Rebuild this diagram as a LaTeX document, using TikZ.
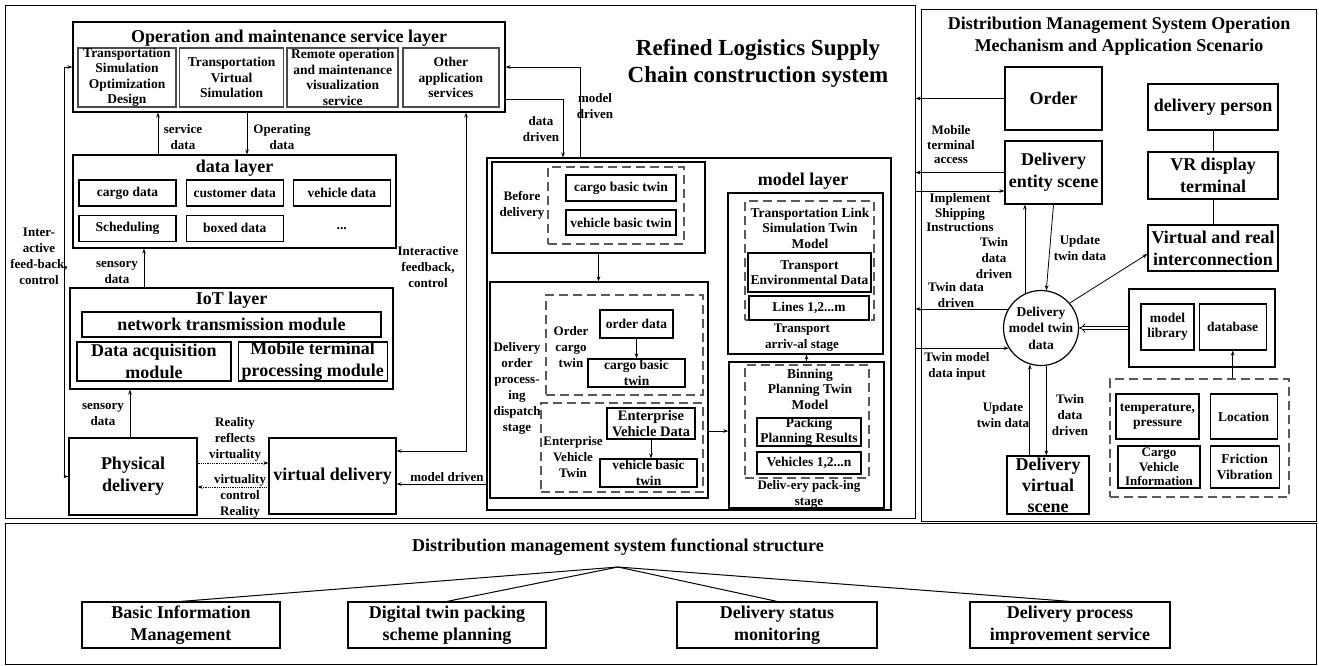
\documentclass[tikz,border=0pt]{standalone}
\usepackage{fontspec}
\setmainfont{Liberation Serif}
\usetikzlibrary{arrows.meta,positioning}

\newcommand{\fntlab}{\fontsize{13}{16}\selectfont\bfseries}
\newcommand{\fnttight}{\fontsize{13}{14.5}\selectfont\bfseries}
\newcommand{\fntbox}{\fontsize{13.5}{15.5}\selectfont\bfseries}
\newcommand{\fntmid}{\fontsize{14.5}{15.5}\selectfont\bfseries}
\newcommand{\fntbig}{\fontsize{18}{22}\selectfont\bfseries}
\newcommand{\fnthead}{\fontsize{23}{27}\selectfont\bfseries}

\tikzset{
  wh/.style 2 args={minimum width=#1pt,minimum height=#2pt},
  box/.style={draw,line width=1.2pt,inner sep=0pt,align=center},
  sbox/.style={box,draw=black!70,line width=1.6pt},
  dbox/.style={draw=black!65,line width=1.2pt,dash pattern=on 9pt off 5pt,inner sep=0pt},
  frame/.style={draw,line width=1pt,inner sep=0pt},
  lab/.style={align=center,inner sep=0pt,font=\fntlab},
  labt/.style={lab,font=\fnttight}
}

\begin{document}
\begin{tikzpicture}[x=1pt,y=-1pt,>={Stealth[length=5pt,width=3.6pt]},line width=0.8pt]
  \useasboundingbox (0,0) rectangle (1319,665);
  \node[frame,wh={910}{513}] (lframe) at (460,261.5) {};
  \node[frame,wh={395}{512}] (rframe) at (1118.5,265) {};
  \node[frame,wh={1311}{141}] (bframe) at (660.5,593.5) {};

  % operation and maintenance service layer
  \node[box,wh={432}{90}] (opslayer) at (289,67) {};
  \node[font=\fntbig] (opstitle) at (289,38) {Operation and maintenance service layer};
  \node[sbox,wh={98}{59},font=\fntbox] (tsod) at (127,77.5) {Transportation\\Simulation\\Optimization\\Design};
  \node[sbox,wh={104}{59},font=\fntbox] (tvs) [right=2pt of tsod] {Transportation\\Virtual\\Simulation};
  \node[sbox,wh={111}{59},font=\fntbox] (romv) [right=2pt of tvs] {Remote operation\\and maintenance\\visualization\\service};
  \node[sbox,wh={96}{59},font=\fntbox] (oas) [right=3pt of romv] {Other\\application\\services};

  % data layer
  \node[box,wh={323}{93}] (datalayer) at (234.5,201.5) {};
  \node[font=\fntbig] (datatitle) at (234.5,168) {data layer};
  \node[box,wh={97}{26},font=\fntbox] (cargo) at (127.5,193) {cargo data};
  \node[box,wh={97}{26},font=\fntbox] (customer) [right=9pt of cargo] {customer data};
  \node[box,wh={97}{26},font=\fntbox] (vehicle) [right=9pt of customer] {vehicle data};
  \node[box,wh={97}{26},font=\fntbox] (sched) [below=8pt of cargo] {Scheduling};
  \node[box,wh={97}{26},font=\fntbox] (boxed) [right=9pt of sched] {boxed data};
  \node[wh={97}{26},font=\fntbox] (etc) [right=9pt of boxed] {...};

  % IoT layer
  \node[box,wh={323}{101}] (iot) at (231.5,338.5) {};
  \node[font=\fntbig] (iottitle) at (231.5,300) {IoT layer};
  \node[box,wh={299}{25},font=\fntbig] (net) at (231.5,324.5) {network transmission module};
  \node[box,wh={154}{39},font=\fntbig] (daq) at (154,361.5) {Data acquisition\\module};
  \node[box,wh={149}{39},font=\fntbig] (mobile) [right=6pt of daq] {Mobile terminal\\processing module};

  \node[box,wh={128}{77},font=\fntbig] (phys) at (133,476.5) {Physical\\delivery};
  \node[box,wh={127}{76},font=\fntbig] (vdel) at (332.5,476) {virtual delivery};

  \coordinate (xsd) at (158,0);
  \coordinate (xod) at (247,0);
  \coordinate (xsn) at (144,0);
  \coordinate (xsn2) at (130,0);
  \coordinate (fbL) at (64,0);
  \coordinate (fbR) at (466,451);
  \coordinate (rr) at (0,463);
  \coordinate (vc) at (0,487);
  \coordinate (md2) at (0,484);
  \draw[->] (xsd |- datalayer.north) -- (xsd |- opslayer.south);
  \draw[->] (xod |- opslayer.south) -- (xod |- datalayer.north);
  \draw[->] (xsn |- iot.north) -- (xsn |- datalayer.south);
  \draw[->] (xsn2 |- phys.north) -- (xsn2 |- iot.south);
  \draw[<->] (opslayer.west) -| (fbL |- phys.west) -- (phys.west);
  \draw[<->] (vdel.east |- fbR) -- (fbR) -- (fbR |- opslayer.south);
  \draw[->,densely dotted] (phys.east |- rr) -- (vdel.west |- rr);
  \draw[->,densely dotted] (vdel.west |- vc) -- (phys.east |- vc);

  \node[lab] (sdlab) at (183,137) {service\\data};
  \node[lab] (odlab) at (282,137) {Operating\\data};
  \node[lab] (fbLlab) at (39,256) {Inter-\\active\\feed-back,\\control};
  \node[lab] (fbRlab) at (428,267) {Interactive\\feedback,\\control};
  \node[lab] (snlab) at (117,272.5) {sensory\\data};
  \node[lab] (sn2lab) at (103,414.5) {sensory\\data};
  \node[lab] (rrvlab) at (235,439) {Reality\\reflects\\virtuality};
  \node[lab] (vcrlab) at (240,496) {virtuality\\control\\Reality};
  \node[lab] (mdlab) at (447,477) {model driven};

  % model layer
  \node[font=\fnthead,align=center] (maintitle) at (758,63.5) {Refined Logistics Supply\\Chain construction system};
  \node[box,wh={404}{352}] (model) at (689,334) {};
  \node[font=\fntbig] (modeltitle) at (803,181) {model layer};
  \draw[->] (model.west |- md2) -- (vdel.east |- md2);

  \coordinate (dd) at (563,99);
  \coordinate (md) at (580,67);
  \draw[->] (opslayer.east |- dd) -- (dd) -- (dd |- model.north);
  \draw[->] (md |- model.north) -- (md) -- (opslayer.east);
  \node[lab] (ddlab) at (541,129.5) {data\\driven};
  \node[lab] (mdlab2) at (595,106) {model\\driven};

  \node[box,wh={213}{91}] (before) at (598.5,207.5) {};
  \node[lab] (beforelab) at (522,205) {Before\\delivery};
  \node[dbox,wh={136}{77}] (beforetwin) at (616,205.5) {};
  \node[box,wh={110}{26},font=\fntbox] (cbt) at (621,188) {cargo basic twin};
  \node[box,wh={110}{25},font=\fntbox] (vbt) at (621,222.5) {vehicle basic twin};

  \node[box,wh={218}{216}] (dispatch) at (599,390) {};
  \node[lab] (dispatchlab) at (517,388.5) {Delivery\\order\\process-\\ing\\dispatch\\stage};
  \node[dbox,wh={157}{100}] (ordertwin) at (624.5,345) {};
  \node[lab] (ordertwinlab) at (571,347) {Order\\cargo\\twin};
  \node[box,wh={73}{28},font=\fntbox] (orderdata) at (636.5,324) {order data};
  \node[box,wh={97}{28},font=\fntbox] (cbt2) at (636.5,373) {cargo basic\\twin};
  \node[dbox,wh={162}{89}] (enttwin) at (622,447.5) {};
  \node[lab] (enttwinlab) at (573,457) {Enterprise\\Vehicle\\Twin};
  \node[box,wh={88}{31},font=\fntmid] (evd) at (651,423.5) {Enterprise\\Vehicle Data};
  \node[box,wh={97}{28},font=\fntbox] (vbt2) at (648.5,473) {vehicle basic\\twin};

  \node[box,wh={155}{161}] (transport) at (805.5,273.5) {};
  \node[dbox,wh={129}{119}] (linktwin) at (809.5,260.5) {};
  \node[align=center,font=\fntbox] (linklab) at (810,228) {Transportation Link\\Simulation Twin\\Model};
  \node[box,wh={123}{39},font=\fntbox] (envdata) at (809.5,272.5) {Transport\\Environmental Data};
  \node[box,wh={120}{24},font=\fntbox] (lines) at (809,308) {Lines 1,2...m};
  \node[lab] (translab) at (802,338) {Transport\\arriv-al stage};

  \node[box,wh={155}{146}] (binning) at (806.5,435) {};
  \node[dbox,wh={124}{113}] (bintwin) at (807,421.5) {};
  \node[align=center,font=\fntbox] (binlab) at (810,389) {Binning\\Planning Twin\\Model};
  \node[box,wh={104}{28},font=\fntbox] (ppr) at (809,432) {Packing\\Planning Results};
  \node[box,wh={104}{22},font=\fntbox] (vehicles) at (809,463) {Vehicles 1,2...n};
  \node[lab] (packlab) at (809,494) {Deliv-ery pack-ing\\stage};

  \coordinate (db) at (0,431);
  \draw[->] (before.south) -- (before.south |- dispatch.north);
  \draw[->] (orderdata) -- (cbt2);
  \draw[->] (evd.south) -- (evd.south |- vbt2.north);
  \draw[->] (dispatch.east |- db) -- (binning.west |- db);
  \draw[->] (binning.north) -- (binning.north |- transport.south);

  % operation mechanism and application scenario
  \node[align=center,font=\fntbig] (rtitle) at (1119,36) {Distribution Management System Operation\\Mechanism and Application Scenario};
  \node[box,wh={97}{63},font=\fntbig] (order) at (1053.5,98.5) {Order};
  \node[box,wh={97}{63},font=\fntbig] (entity) at (1053.5,172.5) {Delivery\\entity scene};
  \node[box,wh={130}{46},font=\fntbig] (person) at (1213,107) {delivery person};
  \node[box,wh={130}{47},font=\fntbig] (vr) at (1213,175.5) {VR display\\terminal};
  \node[box,wh={130}{46},font=\fntbig] (vrint) at (1213,248) {Virtual and real\\interconnection};
  \draw (person) -- (vr) -- (vrint);

  \node[circle,draw,line width=1.2pt,minimum size=75pt,inner sep=0pt] (twin) at (1041,328) {};
  \node[lab,font=\fontsize{13.5}{16.5}\selectfont\bfseries] (twintext) at (twin) {Delivery\\model twin\\data};

  \coordinate (impl) at (0,191);
  \draw[->] (order.west) -- (order.west -| lframe.east);
  \draw[->] (entity.west) -- (entity.west -| lframe.east);
  \draw[->] (lframe.east |- impl) -- (entity.west |- impl);
  \node[labt] (mtalab) at (951,145) {Mobile\\terminal\\access};
  \node[labt] (isilab) at (960,213) {Implement\\Shipping\\Instructions};

  \draw[->] (twin.115) -- (twin.115 |- entity.south);
  \draw[->] (entity.south) -- (twin.82);
  \node[lab] (tdd1) at (994,258) {Twin\\data\\driven};
  \node[lab] (utd1) at (1080,248) {Update\\twin data};
  \draw[->] (twin.150) -- (twin.150 -| lframe.east);
  \draw[->] (twin.212 -| lframe.east) -- (twin.212);
  \node[lab] (tdd2) at (956,295) {Twin data\\driven};
  \node[lab] (tmdi) at (957,366.5) {Twin model\\data input};
  \draw[->] (twin.41) -- ([yshift=-6pt]vrint.west);

  \node[box,wh={146}{78}] (mlbox) at (1202,328) {};
  \node[box,wh={53}{46},font=\fntbox] (mlib) at (1167.5,327) {model\\library};
  \node[box,wh={67}{46},font=\fntbox] (dbase) [right=4pt of mlib] {database};
  \draw[-Implies,double,double distance=2.4pt] (mlbox.west) -- (twin.east);

  \node[dbox,wh={179}{118}] (sensors) at (1199.5,438) {};
  \draw[->] (dbase.south |- sensors.north) -- (dbase.south);
  \node[box,wh={83}{45},font=\fntbox] (temp) at (1157.5,416.5) {temperature,\\pressure};
  \node[box,wh={67}{45},font=\fntbox] (loc) [right=10pt of temp] {Location};
  \node[box,wh={82}{42},font=\fnttight] (cvi) at (1159,467) {Cargo\\Vehicle\\Information};
  \node[box,wh={69}{42},font=\fntbox] (fric) [right=9pt of cvi] {Friction\\Vibration};

  \node[box,wh={82}{58},font=\fontsize{18}{21}\selectfont\bfseries] (dvs) at (1048,485) {Delivery\\virtual\\scene};
  \draw[->] (twin.253 |- dvs.north) -- (twin.253);
  \draw[->] (twin.278) -- (twin.278 |- dvs.north);
  \node[lab] (utd2) at (1003,415) {Update\\twin data};
  \node[lab] (tdd3) at (1070,415.5) {Twin\\data\\driven};

  % functional structure
  \node[font=\fntbig] (fstitle) at (618,547) {Distribution management system functional structure};
  \coordinate (apex) at (618,567);
  \node[box,wh={198}{46},font=\fntbig] (f1) at (181,625) {Basic Information\\Management};
  \node[box,wh={198}{46},font=\fntbig] (f2) at (447,625) {Digital twin packing\\scheme planning};
  \node[box,wh={200}{46},font=\fntbig] (f3) at (777,625) {Delivery status\\monitoring};
  \node[box,wh={200}{46},font=\fntbig] (f4) at (1070,625) {Delivery process\\improvement service};
  \foreach \f in {f1,f2,f3,f4}
    \draw[line width=1pt] (apex) -- (\f.north);
\end{tikzpicture}
\end{document}
